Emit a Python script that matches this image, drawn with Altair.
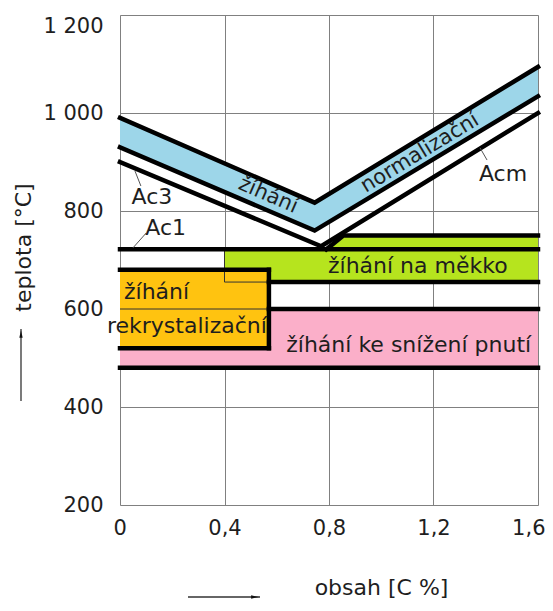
import altair as alt
import pandas as pd

# ---------------- data (x = obsah C [%], T = teplota [°C]) ----------------
# normalizační žíhání band (blue)
band_x = [0.0, 0.745, 1.6]
band_upper = [990, 817, 1094]
band_lower = [930, 760, 1034]

# Ac3 / Acm line
acm_x = [0.0, 0.77, 1.6]
acm_T = [900, 728, 1000]

# Ac1 line
ac1_T = 722
x_min, x_max = 0.0, 1.6

# žíhání na měkko (green)
green_x = [0.4, 0.79, 0.855, 1.6]
green_top = [722, 722, 750, 750]
green_bottom = [655, 655, 655, 655]

# žíhání rekrystalizační (orange)
orange_x = [0.0, 0.57]
orange_T = [520, 680]

# žíhání ke snížení pnutí (pink)
pink_x = [0.0, 1.6]
pink_T = [480, 600]

# text labels
label_text = ["žíhání", "normalizační", "Ac3", "Ac1", "Acm",
              "žíhání na měkko", "žíhání", "rekrystalizační",
              "žíhání ke snížení pnutí"]
label_x = [0.567, 1.148, 0.122, 0.175, 1.466, 1.14, 0.14, 0.256, 1.105]
label_T = [832, 918, 829, 765, 876, 688, 634, 566, 527]
label_angle = [23.5, 328.7, 0, 0, 0, 0, 0, 0, 0]
label_size = [21, 21, 22, 22, 22, 22, 22, 22, 22]

# leader lines of the Ac labels
leader_x = [0.057, 0.05, 1.378]
leader_T = [882, 725, 929]
leader_x2 = [0.08, 0.10, 1.405]
leader_T2 = [851, 755, 904]

# axes
x_ticks = [0.0, 0.4, 0.8, 1.2, 1.6]
x_tick_labels = ["0", "0,4", "0,8", "1,2", "1,6"]
y_ticks = [200, 400, 600, 800, 1000, 1200]
y_tick_labels = ["200", "400", "600", "800", "1 000", "1 200"]

# ---------------- colours / style ----------------
BLUE = "#9dd6e9"
GREEN = "#b6e41e"
ORANGE = "#ffc310"
PINK = "#fbafc9"
INK = "#1e1e1e"
GRID = "#808080"
FONT = "DejaVu Sans"
THICK = 4.5

# ---------------- tables ----------------
band_df = pd.DataFrame({"x": band_x, "lo": band_lower, "hi": band_upper})
lines_df = pd.concat([
    pd.DataFrame({"s": "upper", "x": band_x, "T": band_upper}),
    pd.DataFrame({"s": "lower", "x": band_x, "T": band_lower}),
    pd.DataFrame({"s": "acm", "x": acm_x, "T": acm_T}),
    pd.DataFrame({"s": "green_top", "x": green_x[1:], "T": green_top[1:]}),
], ignore_index=True)
green_df = pd.DataFrame({"x": green_x, "lo": green_bottom, "hi": green_top})
rect_df = pd.DataFrame({
    "x": [pink_x[0], orange_x[0]], "x2": [pink_x[1], orange_x[1]],
    "y": [pink_T[0], orange_T[0]], "y2": [pink_T[1], orange_T[1]],
    "c": [PINK, ORANGE],
})
thick_df = pd.DataFrame({
    "x":  [x_min, orange_x[1], orange_x[0], orange_x[1], orange_x[0], orange_x[1], pink_x[0]],
    "x2": [x_max, green_x[-1], orange_x[1], orange_x[1], orange_x[1], pink_x[1], pink_x[1]],
    "y":  [ac1_T, green_bottom[0], orange_T[1], orange_T[0], orange_T[0], pink_T[1], pink_T[0]],
    "y2": [ac1_T, green_bottom[0], orange_T[1], orange_T[1], orange_T[0], pink_T[1], pink_T[0]],
})
thin_df = pd.DataFrame({
    "x":  [green_x[0], green_x[0], orange_x[0]],
    "x2": [green_x[0], orange_x[1], orange_x[1]],
    "y":  [green_bottom[0], green_bottom[0], pink_T[1]],
    "y2": [green_top[0], green_bottom[0], pink_T[1]],
})
leader_df = pd.DataFrame({"x": leader_x, "y": leader_T, "x2": leader_x2, "y2": leader_T2})
text_df = pd.DataFrame({"t": label_text, "x": label_x, "y": label_T,
                        "a": label_angle, "fs": label_size})

# ---------------- scales / axes ----------------
xscale = alt.Scale(domain=[x_min, x_max], nice=False, zero=False)
yscale = alt.Scale(domain=[200, 1200], nice=False, zero=False)

x_expr = "[%s][indexof([%s], datum.value)]" % (
    ",".join("'%s'" % s for s in x_tick_labels), ",".join(str(v) for v in x_ticks))
y_expr = "[%s][indexof([%s], datum.value)]" % (
    ",".join("'%s'" % s for s in y_tick_labels), ",".join(str(v) for v in y_ticks))

xaxis = alt.Axis(values=x_ticks, labelExpr=x_expr, grid=True, gridColor=GRID,
                 gridWidth=1, gridOpacity=1, ticks=False, domain=False,
                 labelFlush=True, labelFlushOffset=7, labelPadding=12,
                 labelFont=FONT, labelFontSize=21, labelColor=INK,
                 title="obsah [C %]", titleFont=FONT, titleFontSize=22,
                 titleFontWeight="normal", titleColor=INK, titleX=261, titleY=82,
                 titleAlign="center", titleBaseline="middle")
yaxis = alt.Axis(values=y_ticks, labelExpr=y_expr, grid=True, gridColor=GRID,
                 gridWidth=1, gridOpacity=1, ticks=False, domain=False,
                 labelPadding=17, labelFont=FONT, labelFontSize=21, labelColor=INK,
                 labelBaseline={"condition": {"test": "datum.value == %d" % y_ticks[-1],
                                              "value": "top"},
                                "value": "middle"},
                 title="teplota [°C]", titleFont=FONT, titleFontSize=22,
                 titleFontWeight="normal", titleColor=INK, titleAngle=-90,
                 titleX=-97, titleY=232, titleAlign="center", titleBaseline="middle")


def X(f="x"):
    return alt.X(f + ":Q", scale=xscale, axis=xaxis)


def Y(f="y"):
    return alt.Y(f + ":Q", scale=yscale, axis=yaxis)


rects = alt.Chart(rect_df).mark_rect().encode(
    x=X("x"), x2="x2:Q", y=Y("y"), y2="y2:Q",
    color=alt.Color("c:N", scale=None))

green = alt.Chart(green_df).mark_area(color=GREEN, opacity=1).encode(
    x=X("x"), y=Y("lo"), y2="hi:Q")

# orange drawn again above green so it covers the overlap
orange = alt.Chart(rect_df.iloc[[1]]).mark_rect(color=ORANGE).encode(
    x=X("x"), x2="x2:Q", y=Y("y"), y2="y2:Q")

thin = alt.Chart(thin_df).mark_rule(color="#333", strokeWidth=1).encode(
    x=X("x"), x2="x2:Q", y=Y("y"), y2="y2:Q")

thick = alt.Chart(thick_df).mark_rule(color="black", strokeWidth=THICK,
                                      strokeCap="square").encode(
    x=X("x"), x2="x2:Q", y=Y("y"), y2="y2:Q")

band = alt.Chart(band_df).mark_area(color=BLUE, opacity=1).encode(
    x=X("x"), y=Y("lo"), y2="hi:Q")

lines = alt.Chart(lines_df).mark_line(color="black", strokeWidth=THICK,
                                      strokeCap="square").encode(
    x=X("x"), y=Y("T"), detail="s:N")

leaders = alt.Chart(leader_df).mark_rule(color="#555", strokeWidth=1).encode(
    x=X("x"), x2="x2:Q", y=Y("y"), y2="y2:Q")

texts = alt.Chart(text_df).mark_text(font=FONT, color=INK, align="center",
                                     baseline="middle").encode(
    x=X("x"), y=Y("y"), text="t:N",
    angle=alt.Angle("a:Q", scale=None),
    size=alt.Size("fs:Q", scale=None, legend=None))

dummy = alt.Data(values=[{"d": 1}])
ARROW_UP = "M0,-1L0.35,0.6L-0.35,0.6Z"
ARROW_RIGHT = "M1,0L-0.6,0.35L-0.6,-0.35Z"
y_arrow = alt.Chart(dummy).mark_rule(color="#333", strokeWidth=1.3).encode(
    x=alt.value(-99), y=alt.value(314), y2=alt.value(386))
y_head = alt.Chart(dummy).mark_point(shape=ARROW_UP, filled=True, color="#111",
                                     size=90, opacity=1).encode(
    x=alt.value(-99), y=alt.value(320))
x_arrow = alt.Chart(dummy).mark_rule(color="#333", strokeWidth=1.3).encode(
    x=alt.value(68), x2=alt.value(140), y=alt.value(582))
x_head = alt.Chart(dummy).mark_point(shape=ARROW_RIGHT, filled=True, color="#111",
                                     size=90, opacity=1).encode(
    x=alt.value(134), y=alt.value(582))

chart = alt.layer(
    rects, green, orange, thin, thick, band, lines, leaders, texts,
    y_arrow, y_head, x_arrow, x_head
).properties(
    width=418, height=490,
    autosize=alt.AutoSizeParams(type="none"),
    padding={"left": 112, "top": 7, "right": 7, "bottom": 97},
).configure_view(
    stroke=GRID, strokeWidth=1
).configure(background="white")

chart.save("out.html", embed_options={"renderer": "svg", "actions": False})
